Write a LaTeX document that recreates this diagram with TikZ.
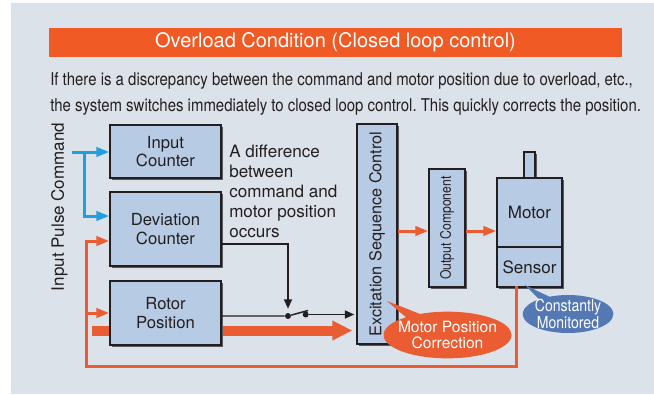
\documentclass[tikz,border=0pt]{standalone}
\usepackage{fontspec}
\setmainfont{TeX Gyre Heros}
\newfontfamily\condfont[FakeStretch=0.85]{TeX Gyre Heros}
\usetikzlibrary{arrows.meta,shadows,shapes.callouts}
\frenchspacing

\definecolor{bgc}{RGB}{220,226,234}
\definecolor{titleorange}{RGB}{240,90,36}
\definecolor{fbred}{RGB}{234,92,50}
\definecolor{boxfill}{RGB}{184,203,228}
\definecolor{boxline}{RGB}{35,31,32}
\definecolor{shadowgray}{RGB}{88,88,94}
\definecolor{cmdblue}{RGB}{30,160,220}
\definecolor{calloutblue}{RGB}{84,120,180}
\definecolor{inkc}{RGB}{35,31,32}

\tikzset{
  blk/.style 2 args={draw=boxline, line width=1.1pt, fill=boxfill, inner sep=0pt,
    minimum width=#1*0.75pt, minimum height=#2*0.75pt,
    general shadow={fill=shadowgray, shadow xshift=1.5pt, shadow yshift=-1.5pt}},
  boxtext/.style={text=inkc, align=center, font=\fontsize{12.5}{13.9}\selectfont},
  fwd/.style={draw=fbred, line width=2.25pt, -{Triangle[length=9.75pt, width=7pt]}},
  cmdline/.style={draw=cmdblue, line width=2.25pt, -{Triangle[length=9.75pt, width=7pt]}},
  sig/.style={draw=inkc, line width=1.1pt},
  bigarrow/.style={draw=fbred, line width=7.5pt, -{Triangle[length=15pt, width=14pt]}},
  dot/.style={circle, fill=inkc, inner sep=0pt, minimum size=4.5pt}
}

\begin{document}
\begin{tikzpicture}[x=0.75pt, y=-0.75pt]
\useasboundingbox (0,0) rectangle (654,394);
\fill[bgc] (11,3) rectangle (654,394);

% Title bar and text
\node[fill=titleorange, text=white, inner sep=0pt, minimum width=429.75pt, minimum height=21.75pt,
  font=\fontsize{15}{17}\selectfont] (title) at (335.5,42.5) {Overload Condition (Closed loop control)};
\node[anchor=base west, inner sep=0pt, text=inkc, font=\condfont\fontsize{13.2}{15}\selectfont] (line1) at (50,85)
  {If there is a discrepancy between the command and motor position due to overload, etc.,};
\node[anchor=base west, inner sep=0pt, text=inkc, font=\condfont\fontsize{13.2}{15}\selectfont] (line2) at (50,111)
  {the system switches immediately to closed loop control. This quickly corrects the position.};

\node[rotate=90, text=inkc, font=\fontsize{12.75}{15}\selectfont] (cmdlabel) at (59.5,207) {Input Pulse Command};

% Right-hand blocks
\node[blk={40}{220}] (excit) at (377,234) {};
\node[rotate=90, text=inkc, font=\fontsize{12.2}{14}\selectfont] (excittext) at (excit) {Excitation Sequence Control};
\node[blk={36}{118}] (outcomp) at (447,228) {};
\node[rotate=90, text=inkc, font=\condfont\fontsize{10.8}{13}\selectfont] (outtext) at (outcomp) {Output Component};
\node[blk={11}{26}] (shaft) at (529.5,165) {};
\node[blk={65}{69}, boxtext, font=\fontsize{12.75}{15}\selectfont] (motor) at (529.5,212.5) {Motor};
\node[blk={65}{40}, boxtext, font=\fontsize{12.75}{15}\selectfont] (sensor) at (529.5,267) {Sensor};

% Thick arrow behind Rotor Position
\coordinate (thk) at (92,330.5);
\draw[bigarrow, shorten >=3pt] (thk) -- (thk -| excit.west);

% Left-hand blocks
\node[blk={111}{53}, boxtext] (inctr) at (165.5,151.5) {Input\\Counter};
\node[blk={111}{74}, boxtext] (devctr) at (165.5,229) {Deviation\\Counter};
\node[blk={111}{64}, boxtext] (rotpos) at (165.5,313) {Rotor\\Position};

\node[anchor=north west, inner sep=0pt, align=left, text=inkc, font=\fontsize{12.8}{15}\selectfont] (difftext) at (229,145)
  {A difference\\between\\command and\\motor position\\occurs};

% Command input
\coordinate (cmd) at (72,152);
\coordinate (cmdj) at (84,152);
\draw[cmdline] (cmd) -- (inctr.west |- cmd);
\draw[cmdline] (cmdj) |- ([yshift=9.75pt]devctr.west);

% Feedback from sensor
\coordinate (fbl) at (86,366);
\draw[fwd, line cap=rect] ([xshift=-9.4pt]sensor.south) |- (fbl) |- ([yshift=-9pt]devctr.west);
\draw[fwd] (fbl |- rotpos.west) -- (rotpos.west);

% Forward path
\coordinate (lvl) at (0,231);
\draw[fwd] (excit.east |- lvl) -- (outcomp.west |- lvl);
\draw[fwd] (outcomp.east |- lvl) -- (motor.west |- lvl);

% Switch
\node[dot] (sw1) at (288,316) {};
\node[dot] (sw2) at (305.7,314.5) {};
\coordinate (blade) at (308,310.5);
\draw[sig, -{Triangle[length=7pt, width=6pt]}, shorten >=3pt] ([yshift=-11.25pt]devctr.east) -| (sw1);
\draw[sig] (rotpos.east |- sw1) -- (sw1) -- (blade);
\draw[sig, -{Triangle[length=7pt, width=6pt]}, shorten >=1.5pt] (sw2) -- (sw2 -| excit.west);

% Callouts
\node[ellipse callout, fill=fbred, inner sep=0pt, minimum width=96pt, minimum height=35pt,
  callout absolute pointer={(387,301)}] (corr) at (447.5,335) {};
\node[text=white, align=center, font=\fontsize{11.7}{12}\selectfont] (corrtext) at (corr) {Motor Position\\Correction};
\node[ellipse callout, fill=calloutblue, inner sep=0pt, minimum width=68pt, minimum height=28.5pt,
  callout absolute pointer={(525,285)}] (mon) at (568,314) {};
\node[text=white, align=center, font=\condfont\fontsize{12.4}{11.6}\selectfont] (montext) at (mon) {Constantly\\Monitored};
\end{tikzpicture}
\end{document}
